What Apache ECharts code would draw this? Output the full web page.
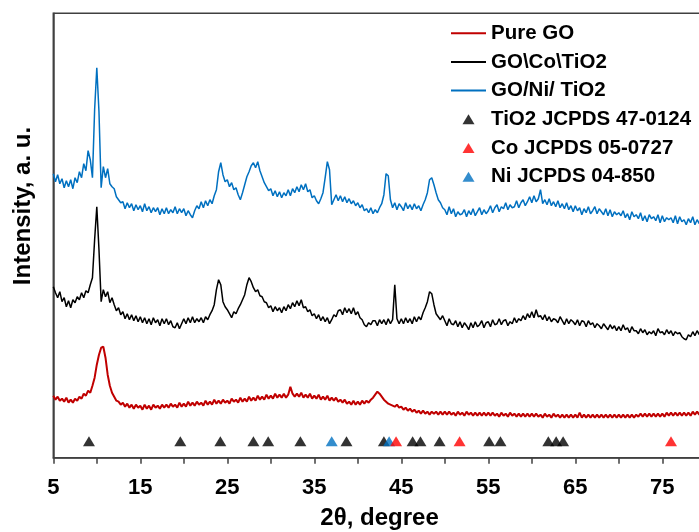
<!DOCTYPE html>
<html><head><meta charset="utf-8">
<script src="https://cdn.jsdelivr.net/npm/echarts@6/dist/echarts.min.js"></script>
<style>html,body{margin:0;padding:0;background:#fff}#c{width:699px;height:532px}</style>
</head><body><div id="c"></div>
<script>
// 2θ grid of the scans: 5° to 80° in 0.25° steps
const angleStart = 5, angleStep = 0.25;
const xTickLabels = ['5', '15', '25', '35', '45', '55', '65', '75'];
const seriesNames = ['Pure GO', 'GO\\Co\\TiO2', 'GO/Ni/ TiO2', 'TiO2 JCPDS 47-0124', 'Co JCPDS 05-0727', 'Ni JCPDS 04-850'];

const pureGO = [
62,58,61,57, 59,56,60,55, 58,55,59,57, 61,59,64,62, 67,65,72,80,
93,103,110,111, 100,83,72,65, 61,57,56,53, 55,51,54,50, 53,49,53,50,
52,48,53,49, 52,48,53,50, 52,49,53,50, 53,50,54,51, 53,50,55,51,
54,51,56,52, 55,52,56,53, 55,52,57,53, 56,53,58,54, 57,54,58,55,
57,54,59,56, 58,55,60,56, 59,56,61,57, 60,57,62,58, 61,58,63,59,
62,59,64,60, 63,60,64,60, 63,71,64,61, 64,61,65,60, 63,60,64,59,
62,59,63,58, 61,58,62,57, 60,57,60,56, 58,55,58,54, 56,53,57,53,
56,53,57,54, 57,55,58,60, 63,66,64,61, 58,56,54,53, 52,51,53,50,
51,48,50,47, 49,46,48,45, 47,44,47,44, 46,43,46,44, 46,43,46,43,
46,43,46,43, 45,42,46,43, 45,42,46,43, 45,42,45,42, 45,42,45,42,
45,42,45,42, 44,41,45,42, 44,41,45,42, 44,41,44,41, 44,41,44,41,
44,41,44,41, 43,40,44,41, 43,40,44,41, 43,40,43,40, 43,40,43,40,
43,40,45,40, 43,40,43,40, 43,40,43,40, 43,40,43,40, 43,40,43,40,
43,40,43,40, 43,40,43,40, 43,41,44,41, 44,41,44,41, 44,41,44,41,
44,41,45,42, 45,42,45,42, 45,42,45,42, 45,42,46,43, 46,43,46,43,
45];

const goCoTiO2 = [
171,165,160,166, 156,160,151,157, 150,158,155,161, 158,165,160,167, 165,173,180,218,
251,208,156,168, 161,166,155,160, 153,147,150,143, 146,139,144,138, 143,137,142,136,
141,135,140,134, 139,133,140,135, 138,132,139,134, 139,133,137,131, 130,135,129,134,
139,134,140,135, 141,135,139,136, 140,135,141,138, 143,147,153,168, 178,173,156,151,
148,144,140,146, 144,149,153,158, 163,173,180,176, 170,166,168,162, 161,156,155,150,
152,146,151,147, 150,145,151,147, 153,149,155,151, 157,152,158,150, 151,146,148,142,
144,139,143,137, 141,136,140,134, 138,143,141,147, 148,143,150,145, 149,144,150,143,
146,140,138,133, 131,135,133,137, 137,132,138,134, 138,133,139,134, 138,173,139,134,
139,134,140,135, 139,134,141,136, 141,138,145,150, 156,166,164,153, 144,141,138,142,
137,132,139,134, 133,137,131,136, 130,135,132,128, 135,130,136,131, 133,137,130,135,
136,131,138,133, 134,139,133,137, 138,132,136,134, 140,135,139,137, 142,138,144,140,
146,140,148,141, 142,138,143,137, 141,136,139,138, 135,141,137,133, 139,134,138,136,
133,138,132,137, 136,131,137,133, 135,130,134,132, 129,134,131,128, 133,129,132,127,
131,127,133,128, 130,125,131,127, 127,124,129,125, 128,123,126,124, 127,122,129,125,
126,123,128,124, 127,122,126,124, 125,121,119,118, 123,121,126,122, 127,123,126,125,
126];

const goNiTiO2 = [
284,276,283,274, 279,270,277,271, 278,269,280,275, 286,280,294,287, 307,298,280,348,
390,346,270,291, 280,289,274,271, 269,261,258,255, 256,249,255,250, 254,247,253,248,
252,246,254,247, 251,245,250,246, 250,243,249,244, 250,244,248,245, 251,244,249,245,
249,242,247,243, 240,247,252,249, 256,250,257,252, 258,254,262,268, 286,295,283,276,
278,271,275,268, 270,263,258,265, 273,281,286,292, 295,290,296,287, 281,275,271,267,
269,262,267,261, 266,260,265,262, 268,262,269,265, 271,266,273,268, 274,266,268,260,
262,257,254,259, 265,280,296,288, 253,258,263,257, 262,256,261,255, 259,254,257,252,
255,250,253,247, 249,245,250,244, 248,245,250,254, 263,284,282,258, 250,255,248,254,
251,247,255,249, 253,248,254,249, 252,247,253,258, 265,278,280,273, 265,258,255,250,
248,243,251,244, 249,241,246,243, 244,248,241,247, 243,249,242,246, 250,243,248,244,
247,252,245,250, 253,246,251,249, 255,248,253,250, 251,257,250,255, 258,252,256,261,
255,262,256,259, 268,254,258,253, 259,252,256,251, 257,250,254,249, 255,248,252,246,
252,247,250,243, 249,245,251,244, 247,251,244,249, 246,243,249,242, 248,241,246,243,
245,242,247,240, 244,238,246,241, 243,239,245,237, 242,236,243,239, 241,237,243,235,
242,236,240,238, 240,235,242,234, 241,236,238,233, 239,235,241,233, 238,234,240,235,
237];

const tio2Peaks = [9.1, 19.6, 24.2, 28.0, 29.7, 33.4, 38.7, 43.0, 46.3, 47.2, 49.4, 55.1, 56.4, 61.9, 62.8, 63.6];
const coPeaks = [44.4, 51.7, 76.0];
const niPeaks = [37.0, 43.6];
const markerLevel = 16.5;

const toXY = arr => arr.map((v, i) => [angleStart + i * angleStep, v]);
const toMarks = arr => arr.map(x => [x, markerLevel]);

const FONT = '"Liberation Sans", Arial, sans-serif';
const LINE_ICON = 'path://M0,0 H35 V2 H0 Z';
const TRI_ICON = 'path://M6,0 L12,10 L0,10 Z';
const chart = echarts.init(document.getElementById('c'), null, { renderer: 'canvas' });
chart.setOption({
  animation: false,
  backgroundColor: '#fff',
  grid: { left: 53.3, top: 13.3, bottom: 74.3, width: 652.5, show: true, borderColor: '#404040', borderWidth: 1.5, containLabel: false, outerBoundsMode: 'none' },
  xAxis: {
    type: 'value', min: 5, max: 80, interval: 5,
    axisLine: { show: true, lineStyle: { color: '#404040', width: 1.5 } },
    axisTick: { show: true, inside: false, length: 6, lineStyle: { color: '#404040', width: 1.5 } },
    splitLine: { show: false },
    axisLabel: {
      margin: 19, color: '#000', fontSize: 22, fontWeight: 'bold', fontFamily: FONT,
      formatter: v => xTickLabels.includes(String(v)) ? String(v) : ''
    },
    name: '2θ, degree', nameLocation: 'middle', nameGap: 49,
    nameTextStyle: { color: '#000', fontSize: 24, fontWeight: 'bold', fontFamily: FONT }
  },
  yAxis: {
    type: 'value', min: 0, max: 444.4,
    axisLine: { show: true, lineStyle: { color: '#404040', width: 1.5 } },
    axisTick: { show: false }, axisLabel: { show: false }, splitLine: { show: false }
  },
  legend: {
    orient: 'vertical', left: 451, top: 22.7, padding: 0, itemWidth: 35, itemHeight: 10, itemGap: 7.7,
    symbolKeepAspect: true,
    data: [
      { name: seriesNames[0], icon: LINE_ICON },
      { name: seriesNames[1], icon: LINE_ICON },
      { name: seriesNames[2], icon: LINE_ICON },
      { name: seriesNames[3], icon: TRI_ICON },
      { name: seriesNames[4], icon: TRI_ICON },
      { name: seriesNames[5], icon: TRI_ICON }
    ],
    textStyle: { color: '#000', fontSize: 20.5, lineHeight: 20, fontWeight: 'bold', fontFamily: FONT }
  },
  graphic: [{
    type: 'text', x: 23, y: 206, rotation: Math.PI / 2,
    style: { text: 'Intensity, a. u.', fill: '#000', font: 'bold 24px ' + FONT, textAlign: 'center', textVerticalAlign: 'middle' }
  }],
  series: [
    { name: seriesNames[0], type: 'line', data: toXY(pureGO), symbol: 'none', lineStyle: { color: '#C00000', width: 2 }, itemStyle: { color: '#C00000' }, z: 2 },
    { name: seriesNames[1], type: 'line', data: toXY(goCoTiO2), symbol: 'none', lineStyle: { color: '#000000', width: 1.5 }, itemStyle: { color: '#000000' }, z: 3 },
    { name: seriesNames[2], type: 'line', data: toXY(goNiTiO2), symbol: 'none', lineStyle: { color: '#0070C0', width: 1.5 }, itemStyle: { color: '#0070C0' }, z: 4 },
    { name: seriesNames[3], type: 'scatter', data: toMarks(tio2Peaks), symbol: 'triangle', symbolSize: [12, 10], itemStyle: { color: '#000000' }, z: 5 },
    { name: seriesNames[4], type: 'scatter', data: toMarks(coPeaks), symbol: 'triangle', symbolSize: [12, 10], itemStyle: { color: '#FF0000' }, z: 7 },
    { name: seriesNames[5], type: 'scatter', data: toMarks(niPeaks), symbol: 'triangle', symbolSize: [12, 10], itemStyle: { color: '#0070C0' }, z: 6 }
  ]
});
</script>
</body></html>
